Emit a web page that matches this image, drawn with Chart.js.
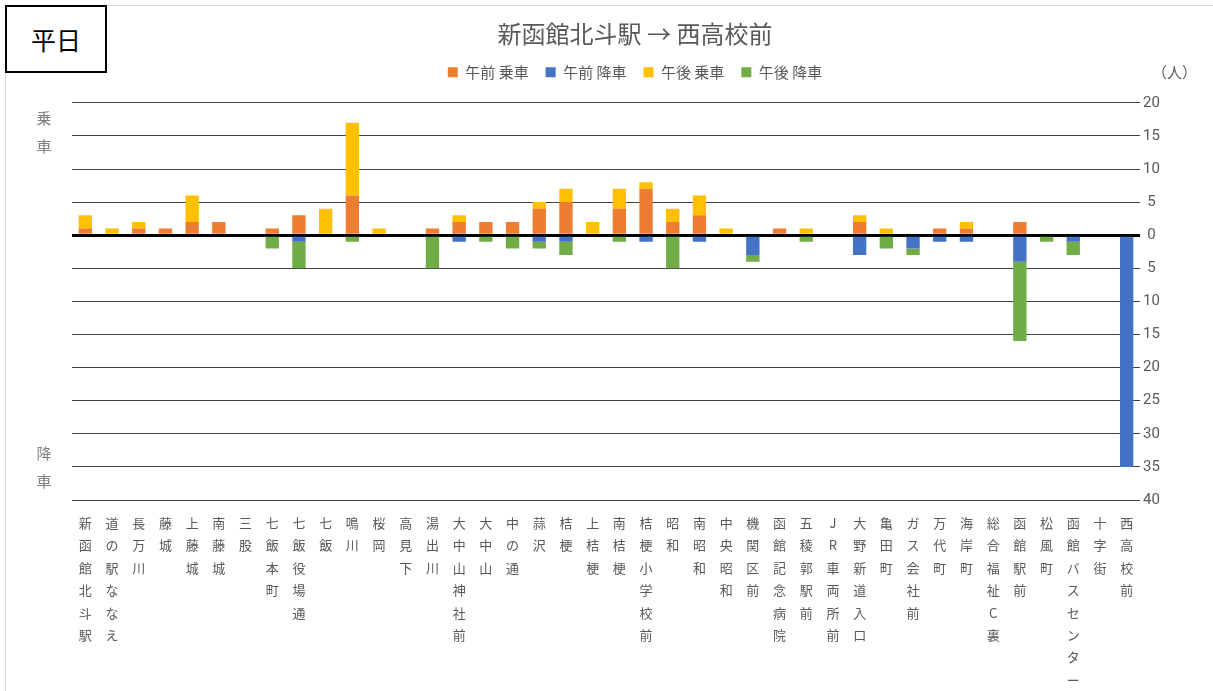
<!DOCTYPE html>
<html lang="ja">
<head>
<meta charset="UTF-8">
<title>新函館北斗駅 → 西高校前</title>
<script src="https://cdn.jsdelivr.net/npm/chart.js@4.4.1/dist/chart.umd.min.js"></script>
<style>
    body { margin: 0; background: #fff; font-family: "Noto Sans CJK JP", sans-serif; }
    #wrap { position: relative; width: 1213px; height: 691px; overflow: hidden; }
    #frame { position: absolute; left: 5px; top: 5px; width: 1220px; height: 700px; border: 1px solid #d9d9d9; }
    #dayBox { position: absolute; left: 5px; top: 5px; width: 98px; height: 64px; border: 2px solid #000; background: #fff;
              font-size: 25px; line-height: 64px; text-align: center; color: #000; }
    .side { position: absolute; width: 20px; font-size: 15px; line-height: 28px; color: #7f7f7f; text-align: center; }
    #unit { position: absolute; left: 1152px; top: 61px; font-size: 15px; color: #595959; }
    canvas { position: absolute; left: 0; top: 0; }
</style>
</head>
<body>
<div id="wrap">
    <div id="frame"></div>
    <canvas id="busChart" width="1213" height="691"></canvas>
    <div id="dayBox">平日</div>
    <div class="side" style="left:34px; top:104px;">乗<br>車</div>
    <div class="side" style="left:34px; top:439px;">降<br>車</div>
    <div id="unit">（人）</div>
</div>
<script>
// ========================================
// データ
// ========================================

// 停留所（新函館北斗駅 → 西高校前）
const stops = [
    '新函館北斗駅', '道の駅ななえ', '長万川', '藤城', '上藤城', '南藤城', '三股', '七飯本町',
    '七飯役場通', '七飯', '鳴川', '桜岡', '高見下', '湯出川', '大中山神社前', '大中山',
    '中の通', '蒜沢', '桔梗', '上桔梗', '南桔梗', '桔梗小学校前', '昭和', '南昭和',
    '中央昭和', '機関区前', '函館記念病院', '五稜郭駅前', 'JR車両所前', '大野新道入口', '亀田町', 'ガス会社前',
    '万代町', '海岸町', '総合福祉C裏', '函館駅前', '松風町', '函館バスセンター', '十字街', '西高校前'
];

// 午前 乗車
const amBoard = [1, 0, 1, 1, 2, 2, 0, 1, 3, 0, 6, 0, 0, 1, 2, 2, 2, 4, 5, 0,
                 4, 7, 2, 3, 0, 0, 1, 0, 0, 2, 0, 0, 1, 1, 0, 2, 0, 0, 0, 0];
// 午前 降車（人数）
const amAlight = [0, 0, 0, 0, 0, 0, 0, 0, 1, 0, 0, 0, 0, 0, 1, 0, 0, 1, 1, 0,
                  0, 1, 0, 1, 0, 3, 0, 0, 0, 3, 0, 2, 1, 1, 0, 4, 0, 1, 0, 35];
// 午後 乗車
const pmBoard = [2, 1, 1, 0, 4, 0, 0, 0, 0, 4, 11, 1, 0, 0, 1, 0, 0, 1, 2, 2,
                 3, 1, 2, 3, 1, 0, 0, 1, 0, 1, 1, 0, 0, 1, 0, 0, 0, 0, 0, 0];
// 午後 降車（人数）
const pmAlight = [0, 0, 0, 0, 0, 0, 0, 2, 4, 0, 1, 0, 0, 5, 0, 1, 2, 1, 2, 0,
                  1, 0, 5, 0, 0, 1, 0, 1, 0, 0, 2, 1, 0, 0, 0, 12, 1, 2, 0, 0];

// 縦軸
const yMin = -40;
const yMax = 20;
const yStep = 5;

// ========================================
// チャート描画
// ========================================

const textColor = '#595959';
const jpFont = '"Noto Sans CJK JP", sans-serif';

// 縦書き風に1文字ずつ改行
const verticalLabels = stops.map(s => Array.from(s));

// 凡例の下に余白を追加
const legendMargin = {
    id: 'legendMargin',
    beforeInit(chart) {
        const originalFit = chart.legend.fit;
        chart.legend.fit = function fit() {
            originalFit.bind(chart.legend)();
            this.height += 13;
        };
    }
};

const ctx = document.getElementById('busChart').getContext('2d');

new Chart(ctx, {
    type: 'bar',
    data: {
        labels: verticalLabels,
        datasets: [
            { label: '午前 乗車', data: amBoard, backgroundColor: '#ED7D31' },
            { label: '午前 降車', data: amAlight.map(v => -v), backgroundColor: '#4472C4' },
            { label: '午後 乗車', data: pmBoard, backgroundColor: '#FFC000' },
            { label: '午後 降車', data: pmAlight.map(v => -v), backgroundColor: '#70AD47' }
        ]
    },
    plugins: [legendMargin],
    options: {
        responsive: false,
        animation: false,
        datasets: {
            bar: {
                categoryPercentage: 1.0,
                barPercentage: 0.5,
                borderWidth: 0
            }
        },
        layout: {
            padding: { left: 72, right: 15, top: 12, bottom: 0 }
        },
        plugins: {
            title: {
                display: true,
                text: '新函館北斗駅 → 西高校前',
                color: textColor,
                font: { family: jpFont, size: 24, weight: 'normal' },
                padding: { top: 7, bottom: 0 }
            },
            legend: {
                display: true,
                position: 'top',
                labels: {
                    color: textColor,
                    font: { family: jpFont, size: 15 },
                    boxWidth: 10,
                    boxHeight: 10,
                    padding: 17
                }
            },
            tooltip: { enabled: false }
        },
        scales: {
            x: {
                stacked: true,
                grid: { display: false, drawTicks: false },
                border: { display: false },
                ticks: {
                    color: textColor,
                    font: { family: jpFont, size: 13, lineHeight: 1.72 },
                    maxRotation: 0,
                    minRotation: 0,
                    autoSkip: false,
                    padding: 12
                },
                afterFit: function(scale) {
                    scale.height = 191;
                }
            },
            y: {
                stacked: true,
                position: 'right',
                min: yMin,
                max: yMax,
                border: { display: false },
                grid: {
                    drawTicks: false,
                    color: function(context) {
                        return context.tick && context.tick.value === 0 ? '#000' : '#404040';
                    },
                    lineWidth: function(context) {
                        return context.tick && context.tick.value === 0 ? 3 : 1;
                    }
                },
                ticks: {
                    stepSize: yStep,
                    color: textColor,
                    crossAlign: 'center',
                    font: { family: 'Roboto, "Noto Sans", sans-serif', size: 15 },
                    callback: function(value) {
                        return Math.abs(value);
                    }
                },
                afterFit: function(scale) {
                    scale.width = 58;
                }
            }
        }
    }
});
</script>
</body>
</html>
